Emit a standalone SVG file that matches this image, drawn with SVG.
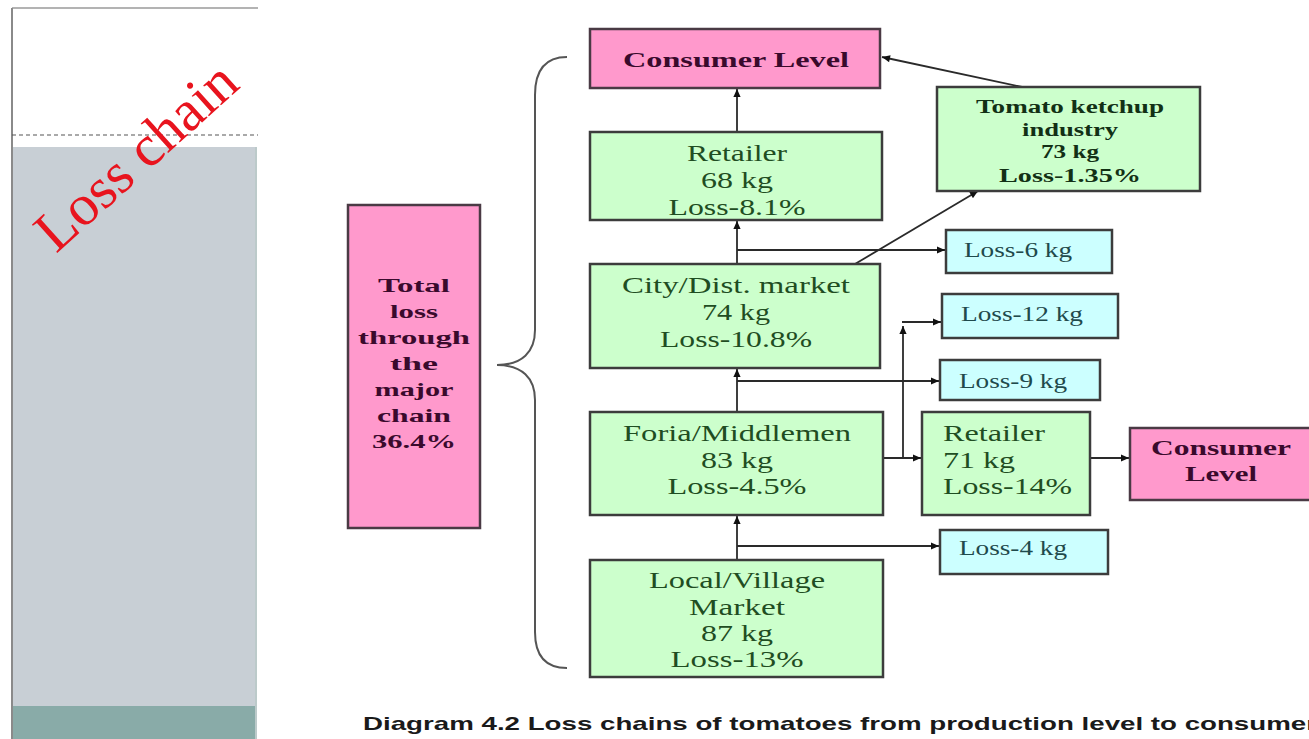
<svg xmlns="http://www.w3.org/2000/svg" width="1309" height="739" viewBox="0 0 1309 739">
<defs>
<marker id="ah" viewBox="0 0 10 10" refX="10" refY="5" markerWidth="9" markerHeight="8" markerUnits="userSpaceOnUse" orient="auto">
<path d="M0,0.5 L10,5 L0,9.5 z" fill="#111"/>
</marker>
</defs>
<style>
.g{fill:#ccffcc;stroke:#3c3c3c;stroke-width:2.5}
.b{fill:#ccffff;stroke:#3c3c3c;stroke-width:2.5}
.p{fill:#ff99cc;stroke:#4a3a44;stroke-width:2.5}
.tg{font-family:"Liberation Serif",serif;font-size:24px;fill:#1f4d22;text-anchor:middle}
.tgl{font-family:"Liberation Serif",serif;font-size:24px;fill:#1f4d22}
.tb{font-family:"Liberation Serif",serif;font-size:20px;fill:#1f4a4c}
.tp{font-family:"Liberation Serif",serif;font-size:22px;font-weight:bold;fill:#3a0a2c;text-anchor:middle}
.tk{font-family:"Liberation Serif",serif;font-size:18px;font-weight:bold;fill:#123015;text-anchor:middle}
.tt{font-family:"Liberation Serif",serif;font-size:19px;font-weight:bold;fill:#3a0a2c;text-anchor:middle}
.c{fill:none;stroke:#2a2a2a;stroke-width:1.8}
</style>
<rect width="1309" height="739" fill="#ffffff"/>
<g id="side-panel">
<line x1="12" y1="8" x2="258" y2="8" stroke="#9a9a9a" stroke-width="1.5"/>
<line x1="12" y1="8" x2="12" y2="739" stroke="#8a8a8a" stroke-width="2"/>
<line x1="12" y1="135" x2="258" y2="135" stroke="#555" stroke-width="1.2" stroke-dasharray="4,3"/>
<rect x="13" y="147" width="244" height="559" fill="#c8cfd5"/>
<rect x="13" y="706" width="244" height="33" fill="#89aba8"/>
<line x1="256" y1="147" x2="256" y2="739" stroke="#bccaca" stroke-width="2"/>
<text x="56" y="254" transform="rotate(-42 56 254)" font-family="Liberation Serif,serif" font-size="58" fill="#e8141e">Loss chain</text>
</g>
<g id="connectors">
<line class="c" x1="737" y1="132" x2="737" y2="89" marker-end="url(#ah)"/>
<line class="c" x1="737" y1="264" x2="737" y2="221" marker-end="url(#ah)"/>
<line class="c" x1="737" y1="250" x2="945" y2="250" marker-end="url(#ah)"/>
<line class="c" x1="855" y1="264" x2="978" y2="191" marker-end="url(#ah)"/>
<line class="c" x1="1022" y1="87" x2="882" y2="57" marker-end="url(#ah)"/>
<line class="c" x1="737" y1="412" x2="737" y2="369" marker-end="url(#ah)"/>
<line class="c" x1="737" y1="381" x2="939" y2="381" marker-end="url(#ah)"/>
<line class="c" x1="883" y1="458" x2="921" y2="458" marker-end="url(#ah)"/>
<line class="c" x1="903" y1="458" x2="903" y2="326" marker-end="url(#ah)"/>
<line class="c" x1="902" y1="322" x2="941" y2="322" marker-end="url(#ah)"/>
<line class="c" x1="737" y1="560" x2="737" y2="516" marker-end="url(#ah)"/>
<line class="c" x1="737" y1="546" x2="939" y2="546" marker-end="url(#ah)"/>
<line class="c" x1="1090" y1="458" x2="1129" y2="458" marker-end="url(#ah)"/>
</g>
<g id="brace">
<path d="M567,57 C546,57 535,70 535,95 L535,330 C535,352 522,365 497,365 C522,365 535,378 535,400 L535,632 C535,656 546,668 567,668" fill="none" stroke="#555" stroke-width="2"/>
</g>
<g id="total-loss">
<rect class="p" x="348" y="205" width="132" height="323"/>
<text class="tt" x="414" y="292" textLength="72" lengthAdjust="spacingAndGlyphs">Total</text>
<text class="tt" x="414" y="318" textLength="48" lengthAdjust="spacingAndGlyphs">loss</text>
<text class="tt" x="414" y="344" textLength="112" lengthAdjust="spacingAndGlyphs">through</text>
<text class="tt" x="414" y="370" textLength="48" lengthAdjust="spacingAndGlyphs">the</text>
<text class="tt" x="414" y="396" textLength="79" lengthAdjust="spacingAndGlyphs">major</text>
<text class="tt" x="414" y="422" textLength="74" lengthAdjust="spacingAndGlyphs">chain</text>
<text class="tt" x="414" y="448" textLength="84" lengthAdjust="spacingAndGlyphs">36.4%</text>
</g>
<g id="consumer-top">
<rect class="p" x="590" y="29" width="290" height="59"/>
<text class="tp" x="736" y="67" textLength="226" lengthAdjust="spacingAndGlyphs">Consumer Level</text>
</g>
<g id="retailer-top">
<rect class="g" x="590" y="132" width="292" height="88"/>
<text class="tg" x="737" y="161" textLength="100" lengthAdjust="spacingAndGlyphs">Retailer</text>
<text class="tg" x="737" y="188" textLength="72" lengthAdjust="spacingAndGlyphs">68 kg</text>
<text class="tg" x="737" y="215" textLength="137" lengthAdjust="spacingAndGlyphs">Loss-8.1%</text>
</g>
<g id="ketchup">
<rect class="g" x="937" y="87" width="263" height="104"/>
<text class="tk" x="1070" y="113" textLength="188" lengthAdjust="spacingAndGlyphs">Tomato ketchup</text>
<text class="tk" x="1070" y="136" textLength="96" lengthAdjust="spacingAndGlyphs">industry</text>
<text class="tk" x="1070" y="158" textLength="58" lengthAdjust="spacingAndGlyphs">73 kg</text>
<text class="tk" x="1070" y="182" textLength="142" lengthAdjust="spacingAndGlyphs">Loss-1.35%</text>
</g>
<g id="loss-6">
<rect class="b" x="946" y="230" width="166" height="43"/>
<text class="tb" x="964" y="257" textLength="108" lengthAdjust="spacingAndGlyphs">Loss-6 kg</text>
</g>
<g id="city">
<rect class="g" x="590" y="264" width="290" height="104"/>
<text class="tg" x="736" y="293" textLength="228" lengthAdjust="spacingAndGlyphs">City/Dist. market</text>
<text class="tg" x="736" y="320" textLength="68" lengthAdjust="spacingAndGlyphs">74 kg</text>
<text class="tg" x="736" y="347" textLength="152" lengthAdjust="spacingAndGlyphs">Loss-10.8%</text>
</g>
<g id="loss-12">
<rect class="b" x="942" y="294" width="176" height="44"/>
<text class="tb" x="961" y="321" textLength="122" lengthAdjust="spacingAndGlyphs">Loss-12 kg</text>
</g>
<g id="loss-9">
<rect class="b" x="940" y="360" width="160" height="40"/>
<text class="tb" x="959" y="388" textLength="108" lengthAdjust="spacingAndGlyphs">Loss-9 kg</text>
</g>
<g id="foria">
<rect class="g" x="590" y="412" width="293" height="103"/>
<text class="tg" x="737" y="441" textLength="228" lengthAdjust="spacingAndGlyphs">Foria/Middlemen</text>
<text class="tg" x="737" y="468" textLength="72" lengthAdjust="spacingAndGlyphs">83 kg</text>
<text class="tg" x="737" y="494" textLength="139" lengthAdjust="spacingAndGlyphs">Loss-4.5%</text>
</g>
<g id="retailer-71">
<rect class="g" x="922" y="412" width="168" height="103"/>
<text class="tgl" x="943" y="441" textLength="102" lengthAdjust="spacingAndGlyphs">Retailer</text>
<text class="tgl" x="943" y="468" textLength="72" lengthAdjust="spacingAndGlyphs">71 kg</text>
<text class="tgl" x="943" y="494" textLength="129" lengthAdjust="spacingAndGlyphs">Loss-14%</text>
</g>
<g id="consumer-right">
<rect class="p" x="1130" y="428" width="185" height="72"/>
<text class="tp" x="1221" y="455" textLength="140" lengthAdjust="spacingAndGlyphs">Consumer</text>
<text class="tp" x="1221" y="481" textLength="72" lengthAdjust="spacingAndGlyphs">Level</text>
</g>
<g id="loss-4">
<rect class="b" x="940" y="530" width="168" height="44"/>
<text class="tb" x="959" y="555" textLength="108" lengthAdjust="spacingAndGlyphs">Loss-4 kg</text>
</g>
<g id="local">
<rect class="g" x="590" y="560" width="293" height="117"/>
<text class="tg" x="737" y="588" textLength="176" lengthAdjust="spacingAndGlyphs">Local/Village</text>
<text class="tg" x="737" y="615" textLength="96" lengthAdjust="spacingAndGlyphs">Market</text>
<text class="tg" x="737" y="641" textLength="72" lengthAdjust="spacingAndGlyphs">87 kg</text>
<text class="tg" x="737" y="667" textLength="133" lengthAdjust="spacingAndGlyphs">Loss-13%</text>
</g>
<g id="caption">
<text x="363" y="730" font-family="Liberation Sans,Arial,sans-serif" font-size="19" font-weight="bold" fill="#1a1a1a" textLength="954" lengthAdjust="spacingAndGlyphs">Diagram 4.2 Loss chains of tomatoes from production level to consumer</text>
</g>
</svg>
